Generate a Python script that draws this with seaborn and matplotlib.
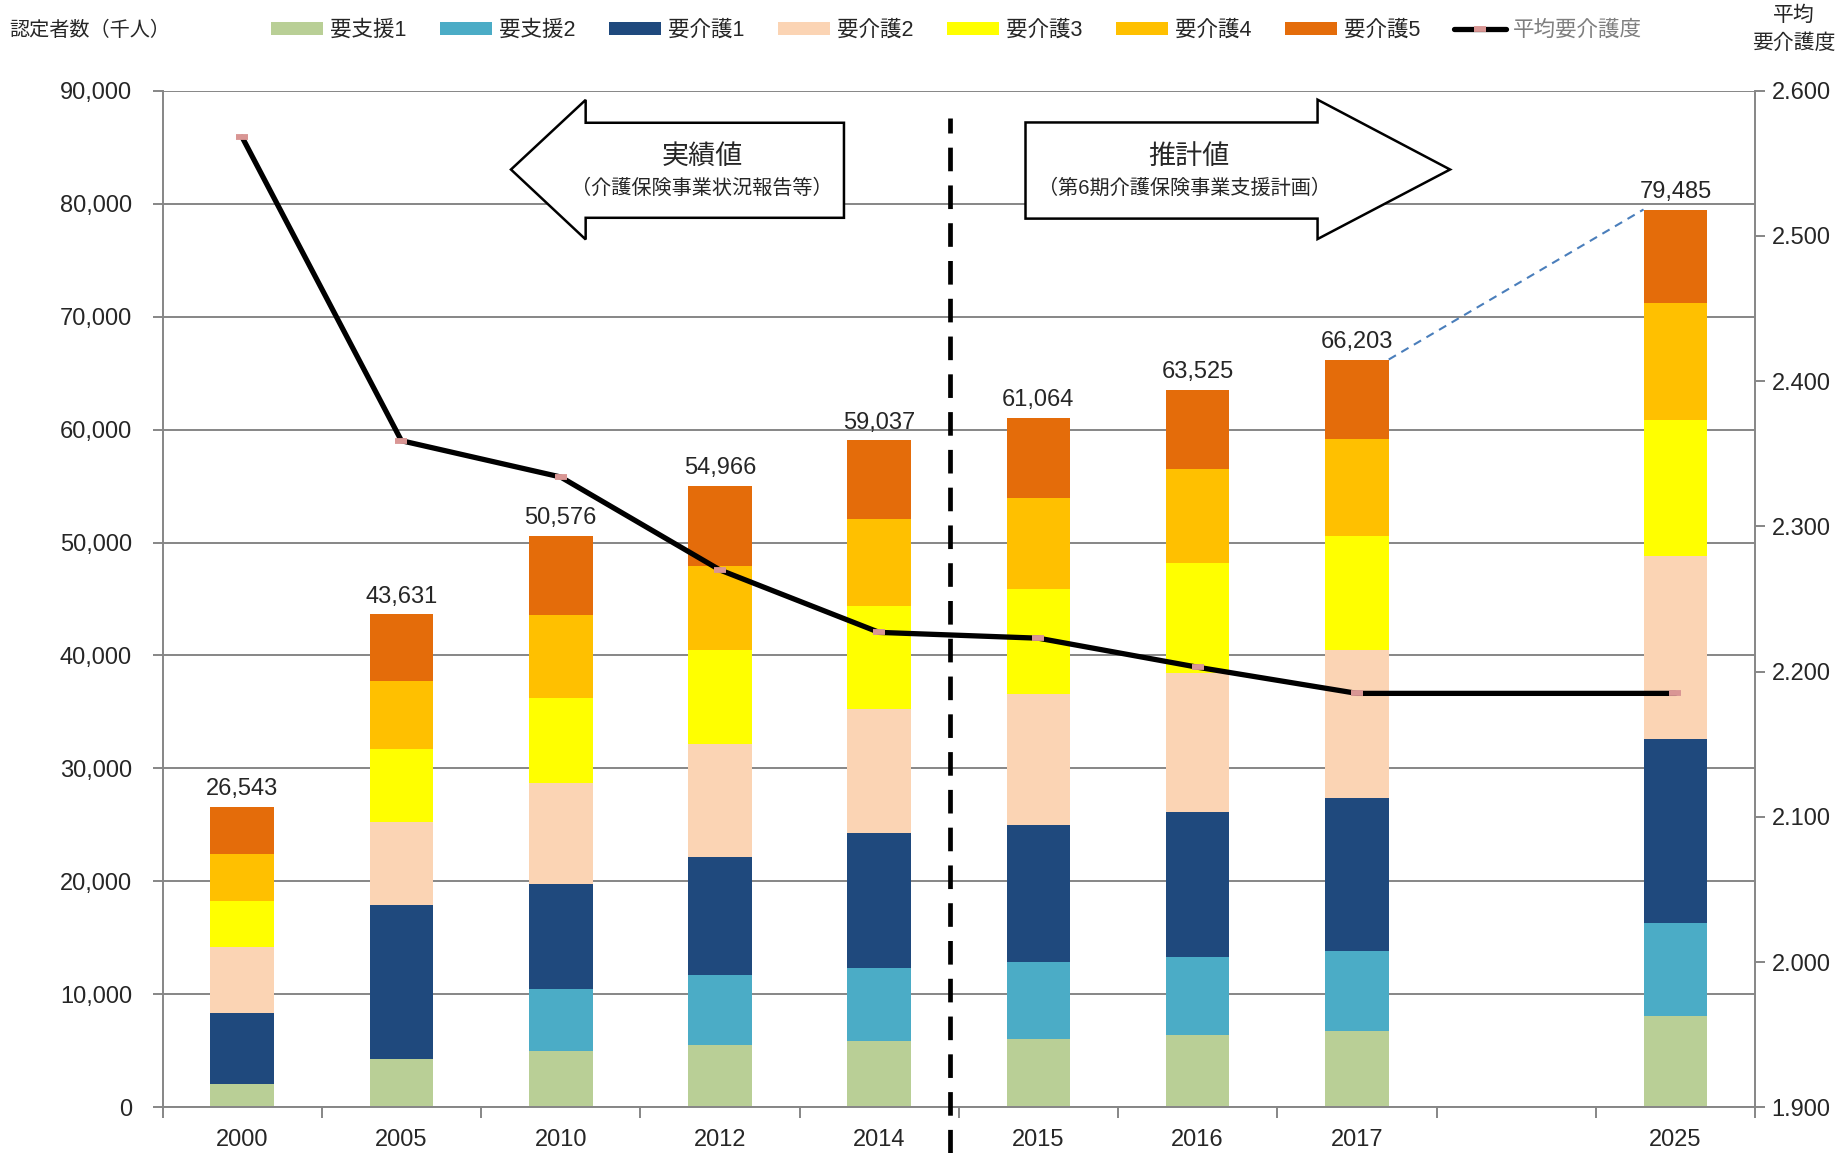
import numpy as np
import matplotlib
matplotlib.use('Agg')
import matplotlib.pyplot as plt
import matplotlib.transforms as mtransforms
from matplotlib.patches import Polygon, Patch
from matplotlib.lines import Line2D
from matplotlib.ticker import FuncFormatter, FixedLocator
import seaborn as sns

# ---------------- data ----------------
years = ['2000', '2005', '2010', '2012', '2014', '2015', '2016', '2017', '2025']
slots = ['2000', '2005', '2010', '2012', '2014', '2015', '2016', '2017', ' ', '2025']
series_names = ['要支援1', '要支援2', '要介護1', '要介護2', '要介護3', '要介護4', '要介護5']
shien1 = [2040, 4230, 4940, 5500, 5880, 6040, 6410, 6740, 8040]
shien2 = [0, 0, 5550, 6240, 6480, 6830, 6880, 7110, 8270]
kaigo1 = [6300, 13650, 9290, 10430, 11910, 12130, 12870, 13520, 16260]
kaigo2 = [5820, 7340, 8890, 9960, 10960, 11570, 12320, 13100, 16270]
kaigo3 = [4140, 6520, 7550, 8340, 9140, 9340, 9710, 10130, 12030]
kaigo4 = [4080, 6020, 7320, 7440, 7700, 8040, 8320, 8550, 10370]
kaigo5 = [4163, 5871, 7036, 7056, 6967, 7114, 7015, 7053, 8245]
totals = [26543, 43631, 50576, 54966, 59037, 61064, 63525, 66203, 79485]
avg_level = [2.568, 2.359, 2.334, 2.270, 2.227, 2.223, 2.203, 2.185, 2.185]
line_name = '平均要介護度'
series_values = [shien1, shien2, kaigo1, kaigo2, kaigo3, kaigo4, kaigo5]
colors = ['#b9cf96', '#4bacc6', '#1f497d', '#fbd4b4', '#ffff00', '#ffc000', '#e46c0a']

# ---------------- style ----------------
sns.set_style('white')
plt.rcParams['font.family'] = ['Liberation Sans', 'Noto Sans CJK JP']
GRID = '#868686'
PINK = '#d99694'

fig, ax = plt.subplots(figsize=(18.47, 11.53), dpi=100)
fig.subplots_adjust(left=0.088, right=0.9502, top=0.9213, bottom=0.0397)

bottom = np.zeros(len(years))
for name, vals, col in zip(series_names, series_values, colors):
    sns.barplot(x=years, y=vals, order=slots, color=col, saturation=1,
                width=0.4, bottom=bottom.copy(), errorbar=None, linewidth=0,
                ax=ax, zorder=2)
    bottom += np.array(vals, dtype=float)

ax.set_axisbelow(True)
ax.set_ylim(0, 90000)
ax.yaxis.set_major_locator(FixedLocator(np.arange(0, 90001, 10000)))
ax.yaxis.set_major_formatter(FuncFormatter(lambda v, p: f'{v:,.0f}'))
ax.yaxis.grid(True, color=GRID, lw=1.4)
ax.xaxis.grid(False)
ax.set_xlim(-0.5, len(slots) - 0.5)
ax.set_xticks(range(len(slots)))
ax.set_xticklabels(slots)
ax.set_xticks(np.arange(-0.5, len(slots)), minor=True)
ax.tick_params(axis='x', which='major', length=0, pad=16, labelsize=17)
ax.tick_params(axis='x', which='minor', length=8, width=1.4, color=GRID, bottom=True)
ax.tick_params(axis='y', length=7, width=1.4, color=GRID, pad=15, labelsize=17, left=True)
for s in ['left', 'bottom']:
    ax.spines[s].set_color(GRID)
    ax.spines[s].set_linewidth(1.4)
ax.spines['top'].set_visible(False)
ax.spines['right'].set_visible(False)
ax.set_xlabel('')
ax.set_ylabel('')

# totals above bars
ax.bar_label(ax.containers[-1], labels=[f'{t:,}' for t in totals],
             padding=5, fontsize=17)

# dashed connector (series line) from 2017 to 2025
i17 = slots.index('2017')
i25 = slots.index('2025')
ax.plot([i17 + 0.2, i25 - 0.2], [totals[years.index('2017')], totals[years.index('2025')]],
        color='#4a7ebb', ls=(0, (4, 3)), lw=1.5, zorder=3)

# ---------------- secondary axis: average care level ----------------
ax2 = ax.twinx()
pos = [slots.index(y) for y in years]
sns.lineplot(x=pos, y=avg_level, ax=ax2, color='black', lw=3.8, marker='_',
             ms=8, mew=4.2, mec=PINK, zorder=5, legend=False, sort=False)
ax2.set_ylim(1.9, 2.6)
ax2.yaxis.set_major_locator(FixedLocator(np.round(np.arange(1.9, 2.601, 0.1), 1)))
ax2.yaxis.set_major_formatter(FuncFormatter(lambda v, p: f'{v:.3f}'))
ax2.grid(False)
ax2.tick_params(axis='y', length=7, width=1.4, color=GRID, pad=5, labelsize=17, right=True)
for s in ['top', 'left', 'bottom']:
    ax2.spines[s].set_visible(False)
ax2.spines['right'].set_color(GRID)
ax2.spines['right'].set_linewidth(1.4)
ax2.set_ylabel('')
ax2.set_xlabel('')
ax2.set_xlim(ax.get_xlim())

# divider between actual and estimated
trans = mtransforms.blended_transform_factory(ax2.transData, ax2.transAxes)
xdiv = slots.index('2014') + 0.445
ax2.plot([xdiv, xdiv], [-0.045, 0.973], transform=trans, color='black', lw=3.4,
         ls=(0, (5, 3)), clip_on=False, zorder=4)

# arrows
left_arrow = [(0.2188, 0.9225), (0.2657, 0.9910), (0.2657, 0.9685), (0.4279, 0.9685),
              (0.4279, 0.8750), (0.2657, 0.8750), (0.2657, 0.8537)]
right_arrow = [(0.5419, 0.9688), (0.7253, 0.9688), (0.7253, 0.9912), (0.8085, 0.9225),
               (0.7253, 0.8541), (0.7253, 0.8742), (0.5419, 0.8742)]
for verts in (left_arrow, right_arrow):
    ax2.add_patch(Polygon(verts, closed=True, facecolor='white', edgecolor='black',
                          lw=1.8, transform=ax2.transAxes, zorder=6, clip_on=False))
ax2.text(0.3388, 0.935, '実績値', transform=ax2.transAxes, ha='center', va='center',
         fontsize=19.5, zorder=7)
ax2.text(0.3388, 0.904, '（介護保険事業状況報告等）', transform=ax2.transAxes,
         ha='center', va='center', fontsize=14.5, zorder=7)
ax2.text(0.6446, 0.935, '推計値', transform=ax2.transAxes, ha='center', va='center',
         fontsize=19.5, zorder=7)
ax2.text(0.6420, 0.904, '（第6期介護保険事業支援計画）', transform=ax2.transAxes,
         ha='center', va='center', fontsize=14.5, zorder=7)

# ---------------- legend & headers ----------------
handles = [Patch(facecolor=c, edgecolor='none') for c in colors]
handles.append(Line2D([], [], color='black', lw=3.8, marker='_', ms=8, mew=4.2,
                      mec=PINK))
leg = fig.legend(handles, series_names + [line_name], loc='center left',
                 bbox_to_anchor=(0.1467, 0.9734), ncol=8, frameon=False,
                 fontsize=15.5, handlelength=2.4, handleheight=0.6,
                 handletextpad=0.35, columnspacing=1.55, borderaxespad=0,
                 borderpad=0)
leg.get_texts()[-1].set_color('#7f7f7f')

fig.text(0.0051, 0.9734, '認定者数（千人）', fontsize=14.5, ha='left', va='center')
fig.text(0.9713, 0.987, '平均', fontsize=15, ha='center', va='center')
fig.text(0.9713, 0.9627, '要介護度', fontsize=15, ha='center', va='center')

fig.savefig('out.png', dpi=100)
